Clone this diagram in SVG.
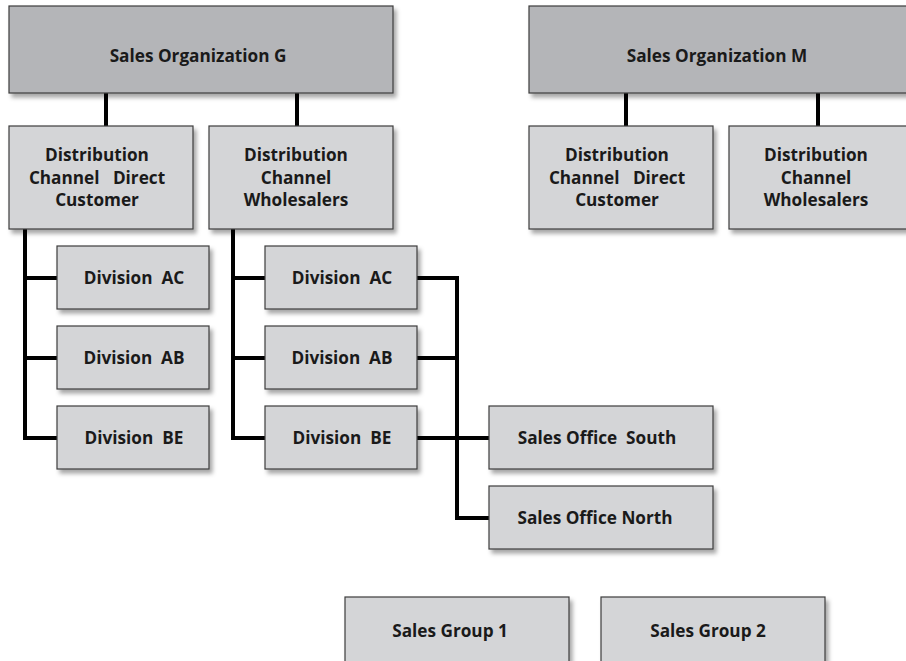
<svg xmlns="http://www.w3.org/2000/svg" width="906" height="661" viewBox="0 0 906 661">
<defs>
<filter id="sh" x="-10%" y="-10%" width="130%" height="140%">
<feDropShadow dx="3" dy="4" stdDeviation="2.2" flood-color="#000" flood-opacity="0.35"/>
</filter>
<style>
.box{fill:#d4d5d7;stroke:#3c3c3c;stroke-width:1.2;filter:url(#sh)}
.org{fill:#b4b5b8;stroke:#3c3c3c;stroke-width:1.2;filter:url(#sh)}
text{font-family:"Open Sans","DejaVu Sans",sans-serif;font-weight:700;font-size:17.2px;fill:#1a1a1a;text-anchor:middle;white-space:pre}
.c{fill:none;stroke:#000;stroke-width:4;stroke-linecap:butt;stroke-linejoin:miter}
</style>
</defs>
<rect width="906" height="661" fill="#fff"/>
<g id="connectors">
<path class="c" d="M106,93V126M297,93V126M626,93V126M818,93V126"/>
<path class="c" d="M25,229V438M23,278H57M23,358H57M23,438H57"/>
<path class="c" d="M233,229V438M231,278H265M231,358H265M231,438H265"/>
<path class="c" d="M417,278H459M417,358H459M417,438H489M457,276V518H489"/>
</g>
<g id="salesOrgG"><rect class="org" x="9" y="6" width="384" height="87"/><text x="198" y="62">Sales Organization G</text></g>
<g id="salesOrgM"><rect class="org" x="529" y="6" width="384" height="87"/><text x="717" y="62">Sales Organization M</text></g>
<g id="dcDirectG"><rect class="box" x="9" y="126" width="184" height="103"/><text x="97" y="161">Distribution</text><text x="97" y="184" xml:space="preserve">Channel   Direct</text><text x="97" y="206">Customer</text></g>
<g id="dcWholesalersG"><rect class="box" x="209" y="126" width="184" height="103"/><text x="296" y="161">Distribution</text><text x="296" y="184">Channel</text><text x="296" y="206">Wholesalers</text></g>
<g id="dcDirectM"><rect class="box" x="529" y="126" width="184" height="103"/><text x="617" y="161">Distribution</text><text x="617" y="184" xml:space="preserve">Channel   Direct</text><text x="617" y="206">Customer</text></g>
<g id="dcWholesalersM"><rect class="box" x="729" y="126" width="184" height="103"/><text x="816" y="161">Distribution</text><text x="816" y="184">Channel</text><text x="816" y="206">Wholesalers</text></g>
<g id="divAC1"><rect class="box" x="57" y="246" width="152" height="63"/><text x="134" y="284" xml:space="preserve">Division  AC</text></g>
<g id="divAB1"><rect class="box" x="57" y="326" width="152" height="63"/><text x="134" y="364" xml:space="preserve">Division  AB</text></g>
<g id="divBE1"><rect class="box" x="57" y="406" width="152" height="63"/><text x="134" y="444" xml:space="preserve">Division  BE</text></g>
<g id="divAC2"><rect class="box" x="265" y="246" width="152" height="63"/><text x="342" y="284" xml:space="preserve">Division  AC</text></g>
<g id="divAB2"><rect class="box" x="265" y="326" width="152" height="63"/><text x="342" y="364" xml:space="preserve">Division  AB</text></g>
<g id="divBE2"><rect class="box" x="265" y="406" width="152" height="63"/><text x="342" y="444" xml:space="preserve">Division  BE</text></g>
<g id="officeSouth"><rect class="box" x="489" y="406" width="224" height="63"/><text x="597" y="444" xml:space="preserve">Sales Office  South</text></g>
<g id="officeNorth"><rect class="box" x="489" y="486" width="224" height="63"/><text x="595" y="524">Sales Office North</text></g>
<g id="group1"><rect class="box" x="345" y="597" width="224" height="80"/><text x="450" y="637">Sales Group 1</text></g>
<g id="group2"><rect class="box" x="601" y="597" width="224" height="80"/><text x="708" y="637">Sales Group 2</text></g>
</svg>
